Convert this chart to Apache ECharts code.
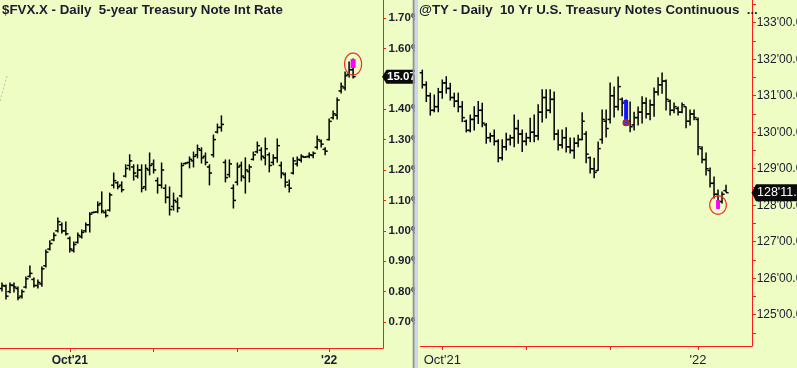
<!DOCTYPE html>
<html><head><meta charset="utf-8">
<script src="https://cdn.jsdelivr.net/npm/echarts@6/dist/echarts.min.js"></script>
<style>html,body{margin:0;padding:0;background:#edfdc4;overflow:hidden}#c{width:797px;height:368px}</style>
</head><body><div id="c"></div><script>
// ---------- categories (trading days; last entries are empty future slots) ----------
const tradingDays = [
'2021-09-08','2021-09-09','2021-09-10','2021-09-13','2021-09-14','2021-09-15','2021-09-16','2021-09-17','2021-09-20','2021-09-21','2021-09-22','2021-09-23','2021-09-24','2021-09-27','2021-09-28','2021-09-29','2021-09-30',
'2021-10-01','2021-10-04','2021-10-05','2021-10-06','2021-10-07','2021-10-08','2021-10-11','2021-10-12','2021-10-13','2021-10-14','2021-10-15','2021-10-18','2021-10-19','2021-10-20','2021-10-21','2021-10-22','2021-10-25','2021-10-26','2021-10-27','2021-10-28','2021-10-29',
'2021-11-01','2021-11-02','2021-11-03','2021-11-04','2021-11-05','2021-11-08','2021-11-09','2021-11-10','2021-11-11','2021-11-12','2021-11-15','2021-11-16','2021-11-17','2021-11-18','2021-11-19','2021-11-22','2021-11-23','2021-11-24','2021-11-26','2021-11-29','2021-11-30',
'2021-12-01','2021-12-02','2021-12-03','2021-12-06','2021-12-07','2021-12-08','2021-12-09','2021-12-10','2021-12-13','2021-12-14','2021-12-15','2021-12-16','2021-12-17','2021-12-20','2021-12-21','2021-12-22','2021-12-23','2021-12-24','2021-12-27','2021-12-28','2021-12-29','2021-12-30','2021-12-31',
'2022-01-03','2022-01-04','2022-01-05','2022-01-06','2022-01-07','2022-01-10','2022-01-11','2022-01-12','2022-01-13','2022-01-14','2022-01-18','2022-01-19','2022-01-20','2022-01-21'];
const fvxDates = tradingDays;
const tyDates = tradingDays.slice(12).filter(d => d !== '2021-12-24');

const monthTicks = ['2021-10-01','2021-11-01','2021-12-01','2022-01-03'];
const xTickLabels = {'2021-10-01': "Oct'21", '2022-01-03': "'22"};
const fvxTicks = [0.7,0.8,0.9,1.0,1.1,1.2,1.3,1.4,1.5,1.6,1.7];
const tyTicks = [125,126,127,128,129,130,131,132,133];
const tyMinorTicks = [124.5,125,125.5,126,126.5,127,127.5,128,128.5,129,129.5,130,130.5,131,131.5,132,132.5,133,133.5];

// ---------- $FVX.X daily OHLC ----------
const fvxOpen  = [0.810,0.818,0.800,0.820,0.810,0.785,0.815,0.850,0.840,0.820,0.825,0.885,0.940,0.970,1.000,1.020,1.000,0.975,0.935,0.962,0.980,1.000,1.020,1.060,1.062,1.090,1.060,1.068,1.150,1.158,1.150,1.180,1.215,1.210,1.180,1.200,1.145,1.200,1.220,1.165,1.150,1.140,1.110,1.080,1.095,1.115,1.221,1.225,1.230,1.250,1.265,1.245,1.210,1.250,1.325,1.340,1.225,1.185,1.140,1.160,1.215,1.175,1.195,1.235,1.260,1.265,1.240,1.250,1.225,1.240,1.215,1.185,1.150,1.190,1.220,1.232,1.242,1.245,1.248,1.275,1.295,1.268,1.300,1.372,1.380,1.460,1.470,1.515,1.530];
const fvxHigh  = [0.828,0.822,0.828,0.828,0.815,0.805,0.848,0.884,0.845,0.838,0.881,0.937,0.967,0.993,1.042,1.026,1.029,0.980,0.963,0.993,1.003,1.026,1.059,1.062,1.095,1.128,1.068,1.124,1.190,1.161,1.161,1.217,1.250,1.217,1.217,1.217,1.217,1.256,1.233,1.174,1.223,1.151,1.144,1.124,1.108,1.223,1.224,1.243,1.259,1.282,1.273,1.256,1.217,1.315,1.351,1.378,1.233,1.233,1.151,1.223,1.226,1.240,1.217,1.259,1.292,1.273,1.305,1.256,1.250,1.302,1.226,1.190,1.167,1.240,1.243,1.250,1.244,1.256,1.259,1.312,1.299,1.273,1.368,1.394,1.437,1.486,1.522,1.555,1.565];
const fvxLow   = [0.802,0.776,0.796,0.799,0.773,0.779,0.812,0.848,0.815,0.812,0.818,0.881,0.937,0.967,0.996,0.993,0.986,0.930,0.930,0.960,0.976,0.996,0.996,1.059,1.059,1.059,1.045,1.065,1.141,1.138,1.128,1.177,1.200,1.167,1.174,1.128,1.134,1.184,1.190,1.124,1.141,1.092,1.052,1.068,1.062,1.111,1.220,1.207,1.210,1.240,1.223,1.217,1.151,1.243,1.322,1.328,1.161,1.177,1.075,1.151,1.164,1.124,1.161,1.233,1.256,1.233,1.217,1.194,1.217,1.226,1.174,1.144,1.128,1.187,1.213,1.226,1.241,1.240,1.240,1.269,1.276,1.250,1.299,1.368,1.368,1.453,1.463,1.506,1.503];
const fvxClose = [0.820,0.785,0.822,0.815,0.780,0.800,0.842,0.860,0.820,0.830,0.875,0.930,0.958,0.985,1.030,1.000,0.990,0.940,0.955,0.985,0.995,1.020,1.055,1.061,1.085,1.065,1.050,1.118,1.165,1.145,1.135,1.205,1.230,1.190,1.200,1.140,1.205,1.215,1.200,1.150,1.200,1.110,1.070,1.100,1.075,1.215,1.223,1.235,1.245,1.270,1.240,1.225,1.190,1.300,1.340,1.350,1.175,1.220,1.100,1.210,1.180,1.200,1.210,1.250,1.280,1.245,1.270,1.215,1.240,1.280,1.190,1.160,1.140,1.230,1.235,1.245,1.243,1.250,1.255,1.300,1.285,1.262,1.360,1.385,1.430,1.475,1.510,1.530,1.507];
const fvxPaint = [[88, 1.565, 1.5355]];      // bar index, paint top, paint bottom

// ---------- @TY daily OHLC (decimal points) ----------
const tyOpen  = [131.63,131.30,131.00,130.60,130.70,131.10,131.35,131.20,130.95,130.85,130.70,130.30,130.05,130.35,130.45,130.60,130.20,129.85,129.90,129.75,129.30,129.60,129.80,129.85,130.10,129.95,129.75,129.85,130.00,129.90,130.55,130.95,130.60,130.90,129.95,129.65,129.85,129.60,129.50,129.70,129.80,129.95,129.30,129.00,128.95,129.80,130.30,130.35,131.00,130.70,130.90,130.85,130.30,130.20,130.40,130.55,130.80,130.50,130.75,131.10,131.30,131.40,130.85,130.60,130.65,130.55,130.70,130.30,130.50,130.35,129.55,129.25,128.95,128.60,128.30,128.10,128.40];
const tyHigh  = [131.70,131.38,131.07,131.02,131.20,131.43,131.52,131.34,131.07,131.07,130.84,130.33,130.47,130.70,130.84,130.79,130.24,129.97,130.06,129.79,129.79,129.97,129.92,130.47,130.33,130.06,129.97,130.38,130.47,130.75,131.16,131.16,131.16,131.10,130.06,130.06,130.12,129.84,129.84,129.92,130.53,130.01,129.32,129.29,129.73,130.61,130.61,131.35,131.24,131.51,130.94,130.88,130.83,130.55,130.69,130.97,130.94,130.88,131.21,131.49,131.62,131.43,130.88,130.80,130.69,130.80,130.69,130.61,130.61,130.39,129.60,129.43,129.02,128.77,128.42,128.36,128.55];
const tyLow   = [131.21,130.84,130.47,130.56,130.56,130.93,131.07,130.88,130.70,130.56,130.29,130.01,130.01,130.06,130.24,130.15,129.70,129.74,129.65,129.19,129.24,129.51,129.65,129.60,129.70,129.47,129.65,129.74,129.74,129.79,130.28,130.39,130.53,129.79,129.51,129.57,129.46,129.43,129.29,129.60,129.79,129.16,128.88,128.75,128.96,129.70,129.87,130.25,130.42,130.61,130.45,130.26,130.01,130.06,130.20,130.25,130.39,130.34,130.44,131.02,131.07,130.61,130.47,130.53,130.47,130.53,130.12,130.20,130.34,129.38,129.16,128.83,128.50,128.20,127.92,128.06,128.36];
const tyClose = [131.30,131.00,130.60,130.70,131.10,131.35,131.20,130.95,130.85,130.70,130.40,130.05,130.35,130.45,130.60,130.25,129.85,129.90,129.75,129.30,129.60,129.80,129.85,130.10,129.95,129.75,129.85,130.00,129.90,130.55,130.95,130.60,130.90,129.95,129.65,129.85,129.60,129.50,129.70,129.80,130.30,129.40,129.00,128.90,129.55,130.35,130.10,131.00,130.70,131.25,130.80,130.27,130.15,130.40,130.55,130.80,130.50,130.75,131.10,131.30,131.40,130.90,130.60,130.70,130.55,130.75,130.30,130.50,130.40,129.60,129.25,129.00,128.60,128.30,128.10,128.30,128.344];
const tyPaintBlue = [[51, 130.88, 130.26]];
const tyPaintMagenta = [[74, 128.14, 127.90]];

// ---------- styling ----------
const BG = '#edfdc4', RED = '#ff1a1a', TXT = '#1b1b30';
const FONT = '"Liberation Sans", Arial, sans-serif';

function ohlcItem(params, api) {
  const i = api.value(0);
  const yo = api.coord([i, api.value(1)]);
  const yh = api.coord([i, api.value(2)]);
  const yl = api.coord([i, api.value(3)]);
  const yc = api.coord([i, api.value(4)]);
  const x = yo[0];
  const st = {stroke: '#000', lineWidth: 1.5};
  return {type: 'group', children: [
    {type: 'line', shape: {x1: x, y1: yh[1] - 0.5, x2: x, y2: yl[1] + 0.5}, style: st},
    {type: 'line', shape: {x1: x - 2.6, y1: yo[1], x2: x, y2: yo[1]}, style: st},
    {type: 'line', shape: {x1: x, y1: yc[1], x2: x + 2.6, y2: yc[1]}, style: st}
  ]};
}
function paintItem(color, width, ellipse, dot) {
  return function (params, api) {
    const i = api.value(0);
    const p1 = api.coord([i, api.value(1)]);
    const p2 = api.coord([i, api.value(2)]);
    const ch = [{type: 'rect', shape: {x: p1[0] - width / 2, y: p1[1], width: width, height: p2[1] - p1[1]}, style: {fill: color}}];
    if (ellipse) {
      const cx = p1[0], cy = (p1[1] + p2[1]) / 2 + ellipse[2];
      const pts = [];
      for (let k = 0; k < 48; k++) {
        const a = k / 48 * Math.PI * 2;
        pts.push([cx + ellipse[0] * Math.cos(a), cy + ellipse[1] * Math.sin(a)]);
      }
      ch.push({type: 'polygon', shape: {points: pts}, style: {fill: 'none', stroke: '#e8322c', lineWidth: 1.2}});
    }
    if (dot) {
      ch.push({type: 'circle', shape: {cx: p2[0], cy: p2[1], r: 2.8}, style: {fill: '#4040c8', stroke: '#a8282c', lineWidth: 1.6}});
    }
    return {type: 'group', children: ch};
  };
}

const chart = echarts.init(document.getElementById('c'), null, {renderer: 'canvas'});

function xAxisCfg(grid, data, bold, size, margin) {
  return {
    type: 'category', gridIndex: grid, data: data, boundaryGap: true,
    axisLine: {show: true, onZero: false, lineStyle: {color: RED, width: 1}},
    axisTick: {show: true, alignWithLabel: true, length: 4, lineStyle: {color: RED},
      interval: (idx, v) => monthTicks.includes(v)},
    axisLabel: {show: true, interval: (idx, v) => v in xTickLabels, formatter: v => xTickLabels[v] || '',
      color: TXT, fontFamily: FONT, fontSize: size, fontWeight: bold ? 'bold' : 'normal', margin: margin},
    splitLine: {show: false}
  };
}

chart.setOption({
  animation: false,
  backgroundColor: BG,
  grid: [
    {left: 0, top: 0, width: 383, height: 348, containLabel: false, outerBoundsMode: 'none'},
    {left: 420.3, top: 0, width: 331.7, height: 346, containLabel: false, outerBoundsMode: 'none'}
  ],
  xAxis: [
    xAxisCfg(0, fvxDates, true, 12, 7),
    xAxisCfg(1, tyDates, false, 13, 8)
  ],
  yAxis: [
    {type: 'value', gridIndex: 0, position: 'right', min: 0.6145, max: 1.7592,
      axisLine: {show: true, lineStyle: {color: RED, width: 1}},
      axisTick: {show: true, length: 3, lineStyle: {color: RED}, customValues: fvxTicks},
      axisLabel: {customValues: fvxTicks, formatter: v => v.toFixed(2) + '%', margin: 5.5,
        color: TXT, fontFamily: FONT, fontSize: 11.5, fontWeight: 'bold'},
      splitLine: {show: false}},
    {type: 'value', gridIndex: 1, position: 'right', min: 124.143, max: 133.622,
      axisLine: {show: true, lineStyle: {color: RED, width: 1}},
      axisTick: {show: true, length: 4, lineStyle: {color: RED}, customValues: tyMinorTicks},
      axisLabel: {customValues: tyTicks, formatter: v => Math.round(v) + "'00.0", margin: 4.7,
        color: TXT, fontFamily: FONT, fontSize: 12},
      splitLine: {show: false}}
  ],
  series: [
    {type: 'custom', name: '$FVX.X', xAxisIndex: 0, yAxisIndex: 0, renderItem: ohlcItem,
      encode: {x: 0, y: [1, 2, 3, 4]},
      data: fvxOpen.map((o, i) => [i, o, fvxHigh[i], fvxLow[i], fvxClose[i]])},
    {type: 'custom', name: 'fvxPaint', xAxisIndex: 0, yAxisIndex: 0, z: 3,
      renderItem: paintItem('#ff00ff', 5, [8.5, 11, 0.5], false), encode: {x: 0, y: [1, 2]},
      data: fvxPaint},
    {type: 'custom', name: '@TY', xAxisIndex: 1, yAxisIndex: 1, renderItem: ohlcItem,
      encode: {x: 0, y: [1, 2, 3, 4]},
      data: tyOpen.map((o, i) => [i, o, tyHigh[i], tyLow[i], tyClose[i]])},
    {type: 'custom', name: 'tyBlue', xAxisIndex: 1, yAxisIndex: 1, z: 3,
      renderItem: paintItem('#1414ff', 4, null, true), encode: {x: 0, y: [1, 2]},
      data: tyPaintBlue},
    {type: 'custom', name: 'tyMagenta', xAxisIndex: 1, yAxisIndex: 1, z: 3,
      renderItem: paintItem('#ff00ff', 4, [8.3, 9.2, 0.5], false), encode: {x: 0, y: [1, 2]},
      data: tyPaintMagenta}
  ]
});

// ---------- overlay graphics (value tags, titles, separator) ----------
const fvxLast = fvxClose[fvxClose.length - 1];
const tyLast = tyClose[tyClose.length - 1];
const yF = chart.convertToPixel({yAxisIndex: 0}, fvxLast);
const yT = chart.convertToPixel({yAxisIndex: 1}, tyLast);
const tyLastTxt = Math.floor(tyLast) + "'" + String(Math.round((tyLast - Math.floor(tyLast)) * 32)).padStart(2, '0') + '.0';
const fvxLastTxt = (fvxLast * 10).toFixed(2);

chart.setOption({
  graphic: [
    {type: 'line', z: 1, shape: {x1: 0, y1: 101, x2: 7, y2: 76}, style: {stroke: '#b9c2b4', lineWidth: 1, lineDash: [2, 2]}},
    {type: 'rect', z: 1, shape: {x: 418, y: 0, width: 14, height: 345}, style: {fill: BG}},
    {type: 'polygon', z: 4, shape: {points: [[382, yF], [386.5, yF - 7], [416, yF - 7], [416, yF + 7], [386.5, yF + 7]]}, style: {fill: '#0a0a0a'}},
    {type: 'text', z: 5, x: 387, y: yF, style: {text: fvxLastTxt, fill: '#ffffff', font: 'bold 11.5px ' + FONT, verticalAlign: 'middle', align: 'left'}},
    {type: 'polygon', z: 4, shape: {points: [[751.5, yT], [756, yT - 8.5], [800, yT - 8.5], [800, yT + 8.5], [756, yT + 8.5]]}, style: {fill: '#0a0a0a'}},
    {type: 'text', z: 5, x: 757, y: yT, style: {text: tyLastTxt, fill: '#ffffff', font: '12.5px ' + FONT, verticalAlign: 'middle', align: 'left'}},
    {type: 'rect', z: 10, shape: {x: 412.7, y: 0, width: 2, height: 368}, style: {fill: '#8b919c'}},
    {type: 'rect', z: 10, shape: {x: 414.7, y: 0, width: 3.3, height: 368}, style: {fill: '#cdd6ea'}},
    {type: 'text', z: 6, x: 2, y: 10, style: {text: '$FVX.X - Daily  5-year Treasury Note Int Rate', fill: TXT, font: 'bold 13.3px ' + FONT, verticalAlign: 'middle', align: 'left'}},
    {type: 'text', z: 6, x: 419, y: 10, style: {text: '@TY - Daily  10 Yr U.S. Treasury Notes Continuous  ...', fill: TXT, font: 'bold 13.3px ' + FONT, verticalAlign: 'middle', align: 'left'}}
  ]
});
</script></body></html>
